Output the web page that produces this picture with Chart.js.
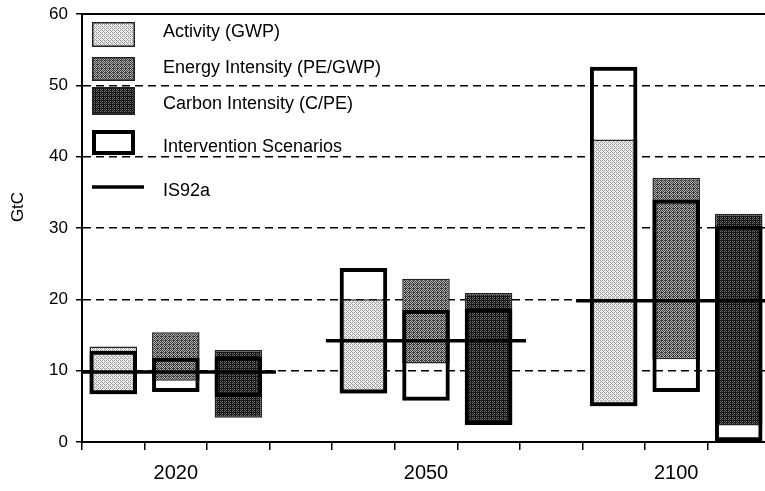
<!DOCTYPE html>
<html lang="en">
<head>
    <meta charset="UTF-8">
    <title>Emission ranges by driver</title>
    <script src="https://cdn.jsdelivr.net/npm/chart.js"></script>
    <style>
        html, body { margin: 0; padding: 0; background: #fff; overflow: hidden; }
        #wrap { width: 770px; height: 491px; }
    </style>
</head>
<body>
    <div id="wrap"><canvas id="myChart" width="770" height="491"></canvas></div>

    <script>
        // years on the x axis
        const years = ['2020', '2050', '2100'];
        // range of emissions (GtC) when one driver varies, [low, high] per year
        const activityRange = [[6.7, 13.4], [6.8, 20.0], [5.0, 42.4]];
        const energyRange   = [[8.6, 15.4], [11.0, 22.9], [11.6, 37.0]];
        const carbonRange   = [[3.4, 12.9], [2.4, 20.9], [2.3, 32.0]];
        // intervention scenarios, [low, high] per year
        const activityInterv = [[6.7, 12.8], [6.8, 24.4], [5.0, 52.6]];
        const energyInterv   = [[7.0, 11.8], [5.8, 18.5], [7.0, 34.0]];
        const carbonInterv   = [[6.3, 12.0], [2.4, 18.7], [0.0, 30.3]];
        // IS92a reference case
        const is92a = [9.8, 14.2, 19.8];
        // y axis ticks
        const yTicks = [0, 10, 20, 30, 40, 50, 60];

        const FONT = '"Liberation Sans", Arial, Helvetica, sans-serif';
        Chart.defaults.font.family = FONT;
        Chart.defaults.color = '#000';

        const canvas = document.getElementById('myChart');
        const ctx = canvas.getContext('2d');

        // halftone look of the printed figure (ordered dither)
        const BAYER = [[0, 8, 2, 10], [12, 4, 14, 6], [3, 11, 1, 9], [15, 7, 13, 5]];
        function dither(base, dot, level) {
            const c = document.createElement('canvas');
            c.width = 4; c.height = 4;
            const g = c.getContext('2d');
            g.fillStyle = base;
            g.fillRect(0, 0, 4, 4);
            g.fillStyle = dot;
            for (let y = 0; y < 4; y++) {
                for (let x = 0; x < 4; x++) {
                    if (BAYER[y][x] < level) g.fillRect(x, y, 1, 1);
                }
            }
            return ctx.createPattern(c, 'repeat');
        }
        const fillLight  = dither('#ececec', '#a0a0a0', 6);
        const fillMedium = dither('#b0b0b0', '#3c3c3c', 9);
        const fillDark   = dither('#6c6c6c', '#161616', 11);

        // 3 bars per year, one empty slot between years
        const nSlots = years.length * 4 - 1;
        const slotLabels = [];
        for (let i = 0; i < nSlots; i++) slotLabels.push('');
        years.forEach((y, g) => { slotLabels[g * 4 + 1] = y; });

        function toSlots(ranges, driver) {
            const out = new Array(nSlots).fill(null);
            ranges.forEach((r, g) => { out[g * 4 + driver] = r; });
            return out;
        }

        // IS92a segments on a hidden linear axis measured in slots
        const isPoints = [];
        years.forEach((y, g) => {
            const from = Math.max(0, g * 4 - 0.1);
            const to = Math.min(nSlots, g * 4 + 3.1);
            isPoints.push({ x: from, y: is92a[g] }, { x: to, y: is92a[g] });
            if (g < years.length - 1) isPoints.push({ x: g * 4 + 3.5, y: null });
        });

        const barCommon = {
            type: 'bar',
            grouped: false,
            categoryPercentage: 1,
            barPercentage: 0.76,
            borderSkipped: false
        };

        function rangeSet(label, data, fill) {
            return Object.assign({}, barCommon, {
                label: label, data: data, backgroundColor: fill,
                borderColor: '#222', borderWidth: 1.5, order: 2
            });
        }
        function boxSet(label, data) {
            return Object.assign({}, barCommon, {
                label: label, data: data, backgroundColor: 'rgba(0,0,0,0)',
                borderColor: '#000', borderWidth: 4, order: 1
            });
        }

        // legend drawn inside the plot, as in the printed figure
        const paperLegend = {
            id: 'paperLegend',
            afterDraw(chart) {
                const c = chart.ctx;
                const x0 = chart.chartArea.left + 10;
                const t = chart.chartArea.top;
                const rows = [
                    { text: 'Activity (GWP)', fill: fillLight, sy: 8, sh: 25, ty: 18 },
                    { text: 'Energy Intensity (PE/GWP)', fill: fillMedium, sy: 43, sh: 24, ty: 54 },
                    { text: 'Carbon Intensity (C/PE)', fill: fillDark, sy: 73, sh: 28, ty: 90 },
                    { text: 'Intervention Scenarios', box: true, sy: 116, sh: 25, ty: 133 },
                    { text: 'IS92a', line: true, sy: 173, ty: 177 }
                ];
                c.save();
                rows.forEach(r => {
                    if (r.line) {
                        c.strokeStyle = '#000';
                        c.lineWidth = 3.5;
                        c.beginPath();
                        c.moveTo(x0, t + r.sy);
                        c.lineTo(x0 + 52, t + r.sy);
                        c.stroke();
                    } else if (r.box) {
                        c.fillStyle = '#fff';
                        c.fillRect(x0, t + r.sy, 43, r.sh);
                        c.strokeStyle = '#000';
                        c.lineWidth = 4;
                        c.strokeRect(x0 + 2, t + r.sy + 2, 39, r.sh - 4);
                    } else {
                        c.fillStyle = r.fill;
                        c.fillRect(x0, t + r.sy, 43, r.sh);
                        c.strokeStyle = '#222';
                        c.lineWidth = 1.5;
                        c.strokeRect(x0 + 0.75, t + r.sy + 0.75, 41.5, r.sh - 1.5);
                    }
                    c.fillStyle = '#000';
                    c.font = '18px ' + FONT;
                    c.textAlign = 'left';
                    c.textBaseline = 'middle';
                    c.fillText(r.text, x0 + 71, t + r.ty);
                });
                // y axis title
                c.translate(18, 207);
                c.rotate(-Math.PI / 2);
                c.font = '17px ' + FONT;
                c.textAlign = 'center';
                c.fillText('GtC', 0, 0);
                c.restore();
            }
        };

        new Chart(ctx, {
            type: 'bar',
            data: {
                labels: slotLabels,
                datasets: [
                    rangeSet('Activity (GWP)', toSlots(activityRange, 0), fillLight),
                    rangeSet('Energy Intensity (PE/GWP)', toSlots(energyRange, 1), fillMedium),
                    rangeSet('Carbon Intensity (C/PE)', toSlots(carbonRange, 2), fillDark),
                    boxSet('Intervention Scenarios', toSlots(activityInterv, 0)),
                    boxSet('Intervention Scenarios', toSlots(energyInterv, 1)),
                    boxSet('Intervention Scenarios', toSlots(carbonInterv, 2)),
                    {
                        type: 'line',
                        label: 'IS92a',
                        data: isPoints,
                        xAxisID: 'xLine',
                        borderColor: '#000',
                        borderWidth: 3.5,
                        pointRadius: 0,
                        spanGaps: false,
                        borderCapStyle: 'butt',
                        order: 0
                    }
                ]
            },
            options: {
                responsive: false,
                devicePixelRatio: 1,
                animation: false,
                layout: { padding: { top: 14, left: 0, right: 0, bottom: 0 } },
                plugins: { legend: { display: false }, tooltip: { enabled: false } },
                scales: {
                    x: {
                        offset: true,
                        grid: {
                            offset: true, drawOnChartArea: false, drawTicks: true,
                            tickLength: 8, color: '#000', lineWidth: 1.5
                        },
                        border: { color: '#000', width: 2 },
                        ticks: { autoSkip: false, maxRotation: 0, padding: 11, font: { size: 20 } },
                        afterFit(s) { s.height = 49; }
                    },
                    xTop: {
                        type: 'linear',
                        position: 'top',
                        offset: false,
                        grid: { display: false },
                        ticks: { display: false },
                        border: { color: '#000', width: 2 },
                        afterFit(s) { s.height = 0; }
                    },
                    xLine: {
                        type: 'linear',
                        display: false,
                        offset: false,
                        min: 0,
                        max: nSlots
                    },
                    y: {
                        min: yTicks[0],
                        max: yTicks[yTicks.length - 1],
                        ticks: { stepSize: 10, padding: 8, font: { size: 17 } },
                        grid: {
                            color: c => (c.tick && (c.tick.value === yTicks[0] || c.tick.value === yTicks[yTicks.length - 1])) ? 'rgba(0,0,0,0)' : '#000',
                            tickColor: '#000',
                            lineWidth: 1.5,
                            tickLength: 6
                        },
                        border: { color: '#000', width: 2, dash: [8, 5] },
                        afterFit(s) {
                            s.width = 82;
                            // keep the plot top at the layout padding
                            s.paddingTop = 0;
                            s.paddingBottom = 0;
                        }
                    }
                }
            },
            plugins: [paperLegend]
        });
    </script>
</body>
</html>
